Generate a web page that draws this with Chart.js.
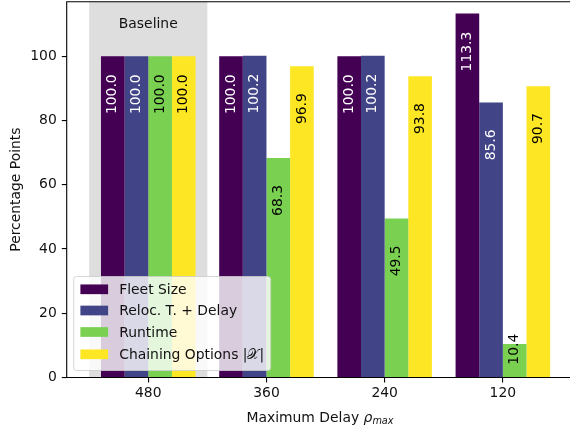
<!DOCTYPE html>
<html>
<head>
<meta charset="utf-8">
<script src="https://cdn.jsdelivr.net/npm/chart.js@4.4.1/dist/chart.umd.min.js"></script>
<style>
  html, body { margin: 0; padding: 0; overflow: hidden; background: #fff; width: 570px; height: 428px; }
  #wrap { position: relative; width: 570px; height: 428px; }
</style>
</head>
<body>
<div id="wrap"><canvas id="c" width="570" height="428"></canvas></div>
<script>
// Categories (maximum delay) and series values, in percentage points
const delays = ['480', '360', '240', '120'];
const seriesNames = ['Fleet Size', 'Reloc. T. + Delay', 'Runtime', 'Chaining Options |\u{1D4B3}|'];
const fleetSize = [100.0, 100.0, 100.0, 113.3];
const relocDelay = [100.0, 100.2, 100.2, 85.6];
const runtime = [100.0, 68.3, 49.5, 10.4];
const chainingOptions = [100.0, 96.9, 93.8, 90.7];
const yTicks = [0, 20, 40, 60, 80, 100];
const baselineLabel = 'Baseline';

const seriesValues = [fleetSize, relocDelay, runtime, chainingOptions];
const colors = ['#440154', '#414487', '#7ad151', '#fde725'];
const labelColors = ['#ffffff', '#ffffff', '#000000', '#000000'];
const FONT = 'DejaVu Sans';
const FS = 13.9;
const ink = '#111';

const decor = {
  id: 'decor',
  beforeDatasetsDraw(chart) {
    const { ctx, chartArea: ca, scales: { x } } = chart;
    // shaded reference group
    const x0 = x.getPixelForValue(-0.5), x1 = x.getPixelForValue(0.5);
    ctx.save();
    ctx.fillStyle = '#dedede';
    ctx.fillRect(x0, ca.top, x1 - x0, ca.bottom - ca.top);
    ctx.fillStyle = ink;
    ctx.font = `${FS}px "${FONT}"`;
    ctx.textAlign = 'center';
    ctx.textBaseline = 'alphabetic';
    ctx.fillText(baselineLabel, x.getPixelForValue(0), ca.top + 26.6);
    ctx.restore();
  },
  afterDatasetsDraw(chart) {
    const { ctx, chartArea: ca, scales: { x, y } } = chart;
    ctx.save();
    // rotated value labels inside the bars
    ctx.font = `${FS}px "${FONT}"`;
    chart.data.datasets.forEach((ds, i) => {
      const meta = chart.getDatasetMeta(i);
      meta.data.forEach((el, j) => {
        const v = seriesValues[i][j];
        const py = y.getPixelForValue(Math.max(v - 18, 4));
        ctx.save();
        ctx.translate(el.x, py);
        ctx.rotate(-Math.PI / 2);
        ctx.fillStyle = labelColors[i];
        ctx.textAlign = 'left';
        ctx.textBaseline = 'middle';
        ctx.fillText(v.toFixed(1), 0, 0);
        ctx.restore();
      });
    });

    // axes frame (the right edge lies past the visible width)
    ctx.strokeStyle = '#000';
    ctx.lineWidth = 1.1;
    ctx.beginPath();
    ctx.moveTo(ca.right + 2, ca.top);
    ctx.lineTo(ca.left, ca.top);
    ctx.lineTo(ca.left, ca.bottom);
    ctx.lineTo(ca.right + 2, ca.bottom);
    ctx.stroke();

    // axis titles
    ctx.fillStyle = ink;
    ctx.save();
    ctx.translate(19.5, (ca.top + ca.bottom) / 2);
    ctx.rotate(-Math.PI / 2);
    ctx.textAlign = 'center';
    ctx.textBaseline = 'alphabetic';
    ctx.font = `${FS}px "${FONT}"`;
    ctx.fillText('Percentage Points', 0, 0);
    ctx.restore();

    const partA = 'Maximum Delay ';
    const fA = `${FS}px "${FONT}"`;
    const fRho = `italic ${FS}px "${FONT}"`;
    const fSub = `italic ${FS * 0.7}px "${FONT}"`;
    ctx.font = fA; const wA = ctx.measureText(partA).width;
    ctx.font = fRho; const wR = ctx.measureText('\u03C1').width;
    ctx.font = fSub; const wS = ctx.measureText('max').width;
    const total = wA + wR + wS;
    let tx = 320 - total / 2;
    const by = 421.7;
    ctx.textAlign = 'left';
    ctx.textBaseline = 'alphabetic';
    ctx.font = fA; ctx.fillText(partA, tx, by); tx += wA;
    ctx.font = fRho; ctx.fillText('\u03C1', tx, by); tx += wR;
    ctx.font = fSub; ctx.fillText('max', tx, by + 2);

    // legend
    ctx.font = `${FS}px "${FONT}"`;
    const lx = ca.left + 7;
    const lb = ca.bottom - 7;
    const lh = 94;
    const lt = lb - lh;
    const handleX = lx + 6.7, handleW = 27.7, handleH = 9.7;
    const textX = handleX + handleW + 11.1;
    const maxW = Math.max(...seriesNames.map(n => ctx.measureText(n).width));
    const lw = textX + maxW + 6.5 - lx;
    const r = 2.8;
    ctx.beginPath();
    ctx.moveTo(lx + r, lt);
    ctx.lineTo(lx + lw - r, lt);
    ctx.quadraticCurveTo(lx + lw, lt, lx + lw, lt + r);
    ctx.lineTo(lx + lw, lt + lh - r);
    ctx.quadraticCurveTo(lx + lw, lt + lh, lx + lw - r, lt + lh);
    ctx.lineTo(lx + r, lt + lh);
    ctx.quadraticCurveTo(lx, lt + lh, lx, lt + lh - r);
    ctx.lineTo(lx, lt + r);
    ctx.quadraticCurveTo(lx, lt, lx + r, lt);
    ctx.closePath();
    ctx.fillStyle = 'rgba(255,255,255,0.8)';
    ctx.fill();
    ctx.strokeStyle = 'rgba(204,204,204,0.8)';
    ctx.lineWidth = 1;
    ctx.stroke();
    const rowCenters = [12.8, 34.0, 55.5, 77.8];
    seriesNames.forEach((name, i) => {
      const cy = lt + rowCenters[i];
      ctx.fillStyle = colors[i];
      ctx.fillRect(handleX, cy - handleH / 2, handleW, handleH);
      ctx.fillStyle = ink;
      ctx.textAlign = 'left';
      ctx.textBaseline = 'alphabetic';
      ctx.fillText(name, textX, cy + 4.9);
    });
    ctx.restore();
  }
};

const tickFont = { family: FONT, size: FS };
const gridOpts = { display: true, offset: false, drawOnChartArea: false, drawTicks: true, tickLength: 4.9, color: '#000', lineWidth: 1.1 };

new Chart(document.getElementById('c'), {
  type: 'bar',
  data: {
    datasets: seriesNames.map((name, i) => ({
      label: name,
      data: seriesValues[i].map((v, j) => ({ x: j, y: v })),
      backgroundColor: colors[i],
      borderWidth: 0,
      categoryPercentage: 0.8,
      barPercentage: 1.0
    }))
  },
  options: {
    responsive: false,
    animation: false,
    devicePixelRatio: 1,
    layout: { padding: { top: 1.7, right: 0, left: 0, bottom: 0 } },
    plugins: { legend: { display: false }, tooltip: { enabled: false } },
    scales: {
      x: {
        type: 'linear',
        min: -0.69,
        max: 3.568,
        offset: false,
        afterBuildTicks: s => { s.ticks = delays.map((_, i) => ({ value: i })); },
        afterFit: s => { s.height = 50.5; s.paddingLeft = 0; s.paddingRight = 0; },
        ticks: { callback: v => delays[v], font: tickFont, color: ink, padding: 3, autoSkip: false, maxRotation: 0 },
        grid: gridOpts,
        border: { display: false }
      },
      y: {
        min: 0,
        max: 117,
        afterBuildTicks: s => { s.ticks = yTicks.map(v => ({ value: v })); },
        afterFit: s => { s.width = 66.7; s.paddingTop = 0; s.paddingBottom = 0; },
        ticks: { font: tickFont, color: ink, padding: 5 },
        grid: gridOpts,
        border: { display: false }
      }
    }
  },
  plugins: [decor]
});
</script>
</body>
</html>
